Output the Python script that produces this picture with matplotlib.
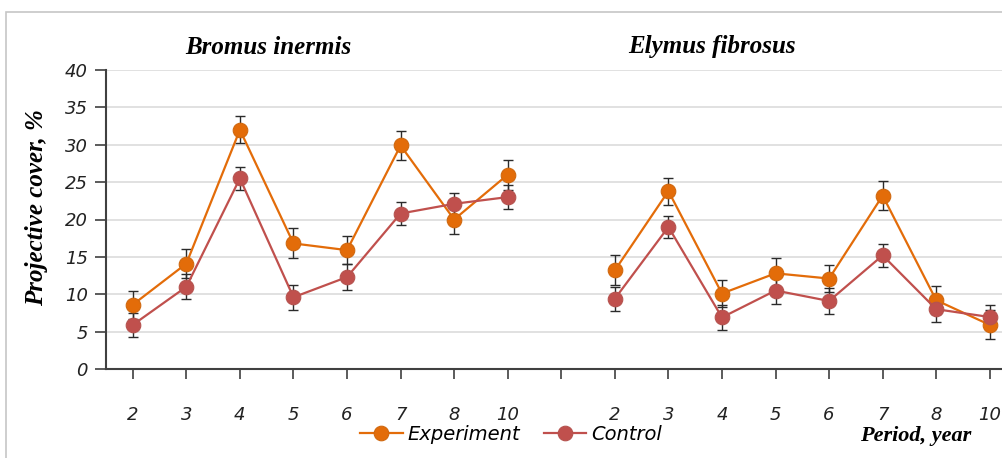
import matplotlib
matplotlib.use("Agg")
import matplotlib.pyplot as plt
from matplotlib.patches import Rectangle
import numpy as np

# ---- data ----
years = ["2", "3", "4", "5", "6", "7", "8", "10"]
species = ["Bromus inermis", "Elymus fibrosus"]

bromus_exp = [8.6, 14.1, 32.0, 16.8, 15.9, 29.9, 20.0, 26.0]
bromus_exp_err = [1.9, 1.9, 1.8, 2.0, 1.9, 1.9, 1.9, 2.0]
bromus_ctrl = [5.9, 11.0, 25.5, 9.6, 12.3, 20.8, 22.1, 23.0]
bromus_ctrl_err = [1.6, 1.7, 1.5, 1.7, 1.7, 1.5, 1.5, 1.65]

elymus_exp = [13.2, 23.8, 10.1, 12.8, 12.1, 23.2, 9.2, 5.9]
elymus_exp_err = [2.0, 1.8, 1.8, 2.0, 1.8, 1.9, 1.9, 1.95]
elymus_ctrl = [9.4, 19.0, 6.9, 10.5, 9.1, 15.2, 8.0, 6.95]
elymus_ctrl_err = [1.6, 1.5, 1.7, 1.8, 1.7, 1.55, 1.7, 1.6]

series_names = ["Experiment", "Control"]
colors = {"Experiment": "#E36C09", "Control": "#C0504D"}
edge_colors = {"Experiment": "#D0680F", "Control": "#B5534F"}

W, H = 1003, 458
fig = plt.figure(figsize=(W / 100, H / 100), dpi=100)

# outer border (chart area frame)
fig.patches.append(Rectangle((6 / W, -0.1), 1.2, 1 - 12 / H + 0.1, transform=fig.transFigure,
                             fill=False, edgecolor="#C6C6C6", linewidth=1.2, zorder=0))

x0, y0, y40 = 106, 369, 70
step = (990 - 133) / 16.0
ax = fig.add_axes([x0 / W, (H - y0) / H, 17 * step / W, (y0 - y40) / H])
ax.set_xlim(-0.5, 16.5)
ax.set_ylim(0, 40)

n = len(years)
xb = np.arange(n)
xe = np.arange(n) + n + 1

def draw(x, vals, errs, name):
    ax.errorbar(x, vals, yerr=errs, fmt="none", ecolor="#2b2b2b", elinewidth=1.0,
                capsize=3.3, capthick=1.0, zorder=3)
    ax.plot(x, vals, color=colors[name], lw=1.6, marker="o", markersize=10.5,
            markerfacecolor=colors[name], markeredgecolor=edge_colors[name],
            markeredgewidth=0.8, zorder=4, label=name)

draw(xb, bromus_exp, bromus_exp_err, "Experiment")
draw(xb, bromus_ctrl, bromus_ctrl_err, "Control")
draw(xe, elymus_exp, elymus_exp_err, "Experiment")
draw(xe, elymus_ctrl, elymus_ctrl_err, "Control")

tick_font = dict(family="DejaVu Sans", style="italic", weight="light", size=13)

ax.set_xticks(np.arange(2 * n + 1))
ax.set_xticklabels(years + [""] + years, fontdict=tick_font, color="#222222")
ax.set_yticks(np.arange(0, 41, 5))
ax.set_yticklabels([str(v) for v in range(0, 41, 5)], fontdict=tick_font, color="#222222")
ax.tick_params(axis="x", direction="out", length=7, width=1.2, color="#404040", pad=20)
ax.tick_params(axis="y", direction="out", length=8, width=1.2, color="#404040", pad=5)

ax.grid(axis="y", color="#D9D9D9", linewidth=1.1, zorder=0)
ax.set_axisbelow(True)
for s in ["top", "right"]:
    ax.spines[s].set_visible(False)
for s in ["left", "bottom"]:
    ax.spines[s].set_color("#404040")
    ax.spines[s].set_linewidth(1.5)

title_font = dict(family="Liberation Serif", style="italic", weight="bold", size=18)
fig.text(268 / W, 1 - 47 / H, species[0], ha="center", va="center", **title_font)
fig.text(712 / W, 1 - 47 / H, species[1], ha="center", va="center", **title_font)

fig.text(37 / W, 1 - 208 / H, "Projective cover, %", rotation=90, ha="center", va="center",
         family="Liberation Serif", style="italic", weight="bold", size=18)
fig.text(916 / W, 1 - 436 / H, "Period, year", ha="center", va="center",
         family="Liberation Serif", style="italic", weight="bold", size=16)

handles, labels = ax.get_legend_handles_labels()
leg = fig.legend(handles[:2], labels[:2], loc="center left", bbox_to_anchor=(360 / W, 1 - 434 / H),
                 ncol=2, frameon=False, handlelength=2.2, handletextpad=0.25, columnspacing=1.2,
                 prop=dict(family="DejaVu Sans", style="italic", weight="light", size=14),
                 borderaxespad=0, borderpad=0)

fig.savefig("out.png", dpi=100)
